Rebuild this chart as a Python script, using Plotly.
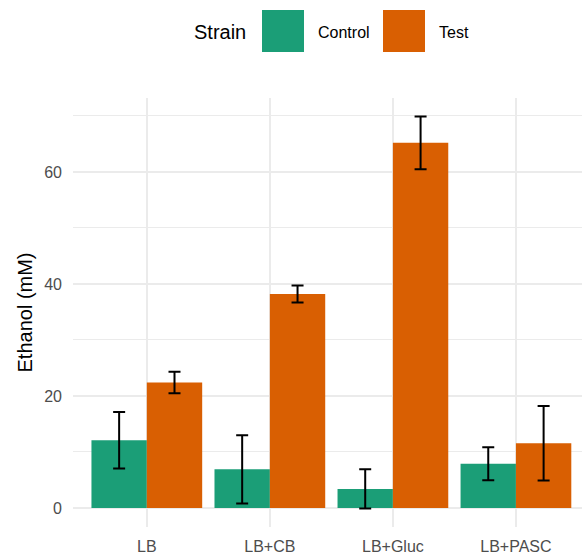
import plotly.graph_objects as go

categories = ["LB", "LB+CB", "LB+Gluc", "LB+PASC"]
control_mean = [12.1, 6.9, 3.4, 7.9]
control_err = [5.05, 6.1, 3.5, 2.95]
test_mean = [22.4, 38.2, 65.2, 11.55]
test_err = [1.9, 1.5, 4.7, 6.65]
series_names = ["Control", "Test"]
colors = ["#1B9E77", "#D95F02"]
y_ticks = [0, 20, 40, 60]

W, H = 582, 558
L, R, T, B = 73, 0, 98, 31
pw, ph = W - L - R, H - T - B

def px(x):
    return (x - L) / pw

def py(y):
    return (H - B - y) / ph

FONT = "Liberation Sans, Arial, sans-serif"

fig = go.Figure()
for name, mean, err, col in [
    (series_names[0], control_mean, control_err, colors[0]),
    (series_names[1], test_mean, test_err, colors[1]),
]:
    fig.add_trace(go.Bar(
        x=categories, y=mean, name=name,
        marker=dict(color=col, line=dict(width=0)),
        error_y=dict(type="data", array=err, visible=True,
                     color="black", thickness=2, width=6),
        showlegend=False,
    ))

fig.update_layout(
    width=W, height=H,
    margin=dict(l=L, r=R, t=T, b=B, autoexpand=False),
    plot_bgcolor="white", paper_bgcolor="white",
    barmode="group", bargap=0.1, bargroupgap=0,
    font=dict(family=FONT),
    xaxis=dict(
        type="category", range=[-0.6, 3.537],
        showgrid=True, gridcolor="#EBEBEB", gridwidth=2,
        zeroline=False, showline=False, ticks="",
        tickfont=dict(size=16, color="#4D4D4D", family=FONT),
        ticklabelstandoff=8,
    ),
    yaxis=dict(
        range=[-3.4, 73.2], tickvals=y_ticks,
        showgrid=True, gridcolor="#EBEBEB", gridwidth=2,
        minor=dict(tickvals=[10, 30, 50, 70], showgrid=True,
                   gridcolor="#EBEBEB", gridwidth=1),
        zeroline=False, showline=False, ticks="",
        tickfont=dict(size=16, color="#4D4D4D", family=FONT),
        ticklabelstandoff=10,
    ),
)

# y-axis title
fig.add_annotation(
    text="Ethanol (mM)", xref="paper", yref="paper",
    x=px(24), y=py(312.5), xanchor="center", yanchor="middle",
    textangle=-90, showarrow=False,
    font=dict(size=20, color="black", family=FONT),
)

# legend (manual, large swatches)
fig.add_annotation(
    text="Strain", xref="paper", yref="paper",
    x=px(192), y=py(32), xanchor="left", yanchor="middle",
    showarrow=False, font=dict(size=20, color="black", family=FONT),
)
legend_items = [(series_names[0], colors[0], 262, 316), (series_names[1], colors[1], 383, 437)]
for name, col, sx, tx in legend_items:
    fig.add_shape(
        type="rect", xref="paper", yref="paper",
        x0=px(sx), x1=px(sx + 42), y0=py(52), y1=py(10),
        fillcolor=col, line=dict(width=0),
    )
    fig.add_annotation(
        text=name, xref="paper", yref="paper",
        x=px(tx), y=py(32), xanchor="left", yanchor="middle",
        showarrow=False, font=dict(size=16, color="black", family=FONT),
    )

fig.write_html("out.html")
